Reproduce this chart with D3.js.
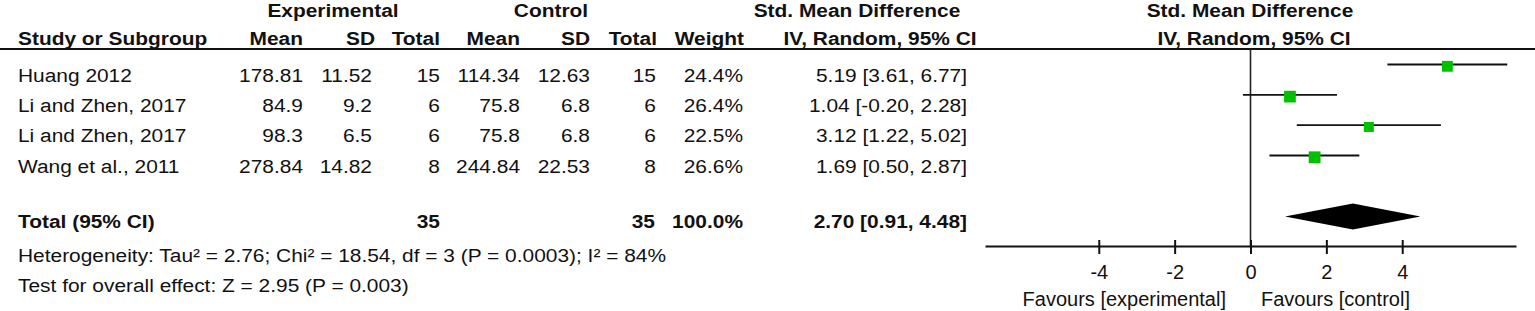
<!DOCTYPE html>
<html>
<head>
<meta charset="utf-8">
<script src="https://cdn.jsdelivr.net/npm/d3@7"></script>
<style>
  html, body { margin: 0; padding: 0; background: #fff; }
  svg { display: block; }
  text { font-family: "Liberation Sans", Arial, "DejaVu Sans", sans-serif; fill: #111; }
</style>
</head>
<body>
<svg id="chart" width="1535" height="311"></svg>
<script>
// ---- data ----
const studies   = ["Huang 2012", "Li and Zhen, 2017", "Li and Zhen, 2017", "Wang et al., 2011"];
const expMean   = [178.81, 84.9, 98.3, 278.84];
const expSD     = [11.52, 9.2, 6.5, 14.82];
const expTotal  = [15, 6, 6, 8];
const ctlMean   = [114.34, 75.8, 75.8, 244.84];
const ctlSD     = [12.63, 6.8, 6.8, 22.53];
const ctlTotal  = [15, 6, 6, 8];
const weights   = [24.4, 26.4, 22.5, 26.6];
const smd       = [5.19, 1.04, 3.12, 1.69];
const ciLow     = [3.61, -0.20, 1.22, 0.50];
const ciHigh    = [6.77, 2.28, 5.02, 2.87];
const pooled    = {est: 2.70, lo: 0.91, hi: 4.48};
const totals    = {exp: 35, ctl: 35, weight: 100.0};
const tickVals  = [-4, -2, 0, 2, 4];
const heterogeneityText = "Heterogeneity: Tau² = 2.76; Chi² = 18.54, df = 3 (P = 0.0003); I² = 84%";
const overallText = "Test for overall effect: Z = 2.95 (P = 0.003)";
const favourLeft = "Favours [experimental]";
const favourRight = "Favours [control]";

// ---- layout ----
const svg = d3.select("#chart");
const FS = 19, SX = 1.1;
const x = d3.scaleLinear().domain([-7, 7]).range([985, 1516]);
const yLine = d3.scaleLinear().domain([0, studies.length - 1]).range([64.5, 155.5]);
const sq = d3.scaleLinear().domain([0, 26.6]).range([0, 11.8]);
const axisY = 246;
const totalY = 216.5;

// table text (slightly wide glyphs, as in the reference)
function txt(xp, yp, s, anchor, bold) {
  return svg.append("text")
    .attr("transform", `translate(${xp},${yp}) scale(${SX},1)`)
    .attr("text-anchor", anchor || "start")
    .attr("font-size", FS).attr("font-weight", bold ? "bold" : "normal").text(s);
}
txt(333, 17, "Experimental", "middle", true);
txt(551, 17, "Control", "middle", true);
txt(857, 17, "Std. Mean Difference", "middle", true);
txt(1250, 17, "Std. Mean Difference", "middle", true);

const hy = 45;
txt(18, hy, "Study or Subgroup", "start", true);
txt(303, hy, "Mean", "end", true);
txt(375, hy, "SD", "end", true);
txt(440, hy, "Total", "end", true);
txt(520, hy, "Mean", "end", true);
txt(590, hy, "SD", "end", true);
txt(657, hy, "Total", "end", true);
txt(744, hy, "Weight", "end", true);
txt(880, hy, "IV, Random, 95% CI", "middle", true);
txt(1254, hy, "IV, Random, 95% CI", "middle", true);

svg.append("line").attr("x1", 0).attr("x2", 1535).attr("y1", 49).attr("y2", 49)
  .attr("stroke", "#111").attr("stroke-width", 2);

// rows
const cols = [
  {x: 303, v: i => String(expMean[i])},
  {x: 372, v: i => String(expSD[i])},
  {x: 440, v: i => String(expTotal[i])},
  {x: 520, v: i => String(ctlMean[i])},
  {x: 590, v: i => String(ctlSD[i])},
  {x: 656, v: i => String(ctlTotal[i])},
  {x: 743, v: i => weights[i].toFixed(1) + "%"},
  {x: 967, v: i => smd[i].toFixed(2) + " [" + ciLow[i].toFixed(2) + ", " + ciHigh[i].toFixed(2) + "]"}
];
studies.forEach((s, i) => {
  const by = yLine(i) + 17.3;
  txt(18, by, s, "start", false);
  cols.forEach(c => txt(c.x, by, c.v(i), "end", false));
});

// totals row
const tb = 228;
txt(18, tb, "Total (95% CI)", "start", true);
txt(440, tb, String(totals.exp), "end", true);
txt(655, tb, String(totals.ctl), "end", true);
txt(743, tb, totals.weight.toFixed(1) + "%", "end", true);
txt(967, tb, pooled.est.toFixed(2) + " [" + pooled.lo.toFixed(2) + ", " + pooled.hi.toFixed(2) + "]", "end", true);

txt(18, 262, heterogeneityText, "start", false);
txt(18, 292, overallText, "start", false);

// zero line
svg.append("line").attr("x1", x(0)).attr("x2", x(0)).attr("y1", 49).attr("y2", axisY)
  .attr("stroke", "#222").attr("stroke-width", 1.6);

// CI lines and squares
const g = svg.append("g");
g.selectAll("line.ci").data(studies).join("line").attr("class", "ci")
  .attr("x1", (d, i) => x(ciLow[i])).attr("x2", (d, i) => x(ciHigh[i]))
  .attr("y1", (d, i) => yLine(i)).attr("y2", (d, i) => yLine(i))
  .attr("stroke", "#111").attr("stroke-width", 1.8);
g.selectAll("rect.pt").data(studies).join("rect").attr("class", "pt")
  .attr("x", (d, i) => x(smd[i]) - sq(weights[i]) / 2)
  .attr("y", (d, i) => yLine(i) + 1.8 - sq(weights[i]) / 2)
  .attr("width", (d, i) => sq(weights[i]))
  .attr("height", (d, i) => sq(weights[i]))
  .attr("fill", "#00c000");

// diamond
const dh = 13;
svg.append("path")
  .attr("d", `M${x(pooled.lo)},${totalY} L${x(pooled.est)},${totalY - dh} L${x(pooled.hi)},${totalY} L${x(pooled.est)},${totalY + dh} Z`)
  .attr("fill", "#000");

// axis
const axis = d3.axisBottom(x).tickValues(tickVals).tickSize(8).tickSizeOuter(0).tickFormat(d3.format("d"));
const ax = svg.append("g").attr("transform", `translate(0,${axisY})`).call(axis);
ax.select(".domain").attr("stroke", "#111").attr("stroke-width", 2);
ax.selectAll(".tick line").attr("y1", -6).attr("y2", 8).attr("stroke", "#111").attr("stroke-width", 2);
ax.selectAll(".tick text").attr("y", 33).attr("dy", null)
  .attr("font-size", 20).attr("font-family", null).attr("fill", "#111")
  .text(d => d < 0 ? "-" + Math.abs(d) : String(d));

svg.append("text").attr("x", 1226).attr("y", 306).attr("text-anchor", "end").attr("font-size", 20).text(favourLeft);
svg.append("text").attr("x", 1261).attr("y", 306).attr("text-anchor", "start").attr("font-size", 20).text(favourRight);
</script>
</body>
</html>
